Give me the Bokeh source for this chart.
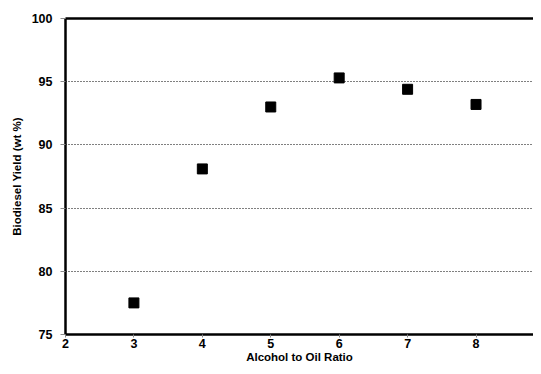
from bokeh.plotting import figure
from bokeh.models import LinearAxis, FixedTicker, Range1d, ColumnDataSource
from bokeh.embed import file_html
from bokeh.resources import INLINE

ratio = [3, 4, 5, 6, 7, 8]
yield_pct = [77.5, 88.1, 93.0, 95.3, 94.4, 93.2]
x_ticks = [2, 3, 4, 5, 6, 7, 8, 9]
y_ticks = [75, 80, 85, 90, 95, 100]

FONT = "Liberation Sans"

p = figure(width=533, height=366, output_backend="svg", toolbar_location=None,
           x_range=Range1d(2, 8.84), y_range=Range1d(75, 100),
           min_border_left=65, min_border_right=0, min_border_top=18, min_border_bottom=32)
p.outline_line_color = None
p.background_fill_color = "white"
p.border_fill_color = "white"

src = ColumnDataSource(dict(x=ratio, y=yield_pct))
p.scatter("x", "y", source=src, marker="square", size=10, fill_color="black", line_color="black")

p.xgrid.grid_line_color = None
p.ygrid.ticker = FixedTicker(ticks=[80, 85, 90, 95])
p.ygrid.grid_line_color = "black"
p.ygrid.grid_line_dash = "1 2"
p.ygrid.grid_line_width = 1

for ax in (p.xaxis[0], p.yaxis[0]):
    ax.axis_line_width = 2.5
    ax.axis_line_color = "black"
    ax.major_tick_line_color = "#888888"
    ax.major_tick_in = 0
    ax.minor_tick_line_color = None
    ax.major_label_text_font = FONT
    ax.major_label_text_font_style = "bold"
    ax.major_label_text_font_size = "12.5px"
    ax.major_label_text_color = "black"
    ax.axis_label_text_font = FONT
    ax.axis_label_text_font_style = "bold"
    ax.axis_label_text_font_size = "11.5px"
    ax.axis_label_text_color = "black"

p.xaxis.ticker = FixedTicker(ticks=x_ticks)
p.yaxis.ticker = FixedTicker(ticks=y_ticks)
p.xaxis.axis_label = "Alcohol to Oil Ratio"
p.yaxis.axis_label = "Biodiesel Yield (wt %)"
p.xaxis.major_tick_out = 3
p.xaxis.major_label_standoff = 1
p.xaxis.axis_label_standoff = 0
p.yaxis.major_tick_out = 5
p.yaxis.major_label_standoff = 8
p.yaxis.axis_label_standoff = 6

top = LinearAxis(axis_line_width=2.5, axis_line_color="black",
                 ticker=FixedTicker(ticks=[]),
                 major_tick_line_color=None, minor_tick_line_color=None)
p.add_layout(top, "above")

open("out.html", "w").write(file_html(p, INLINE))
